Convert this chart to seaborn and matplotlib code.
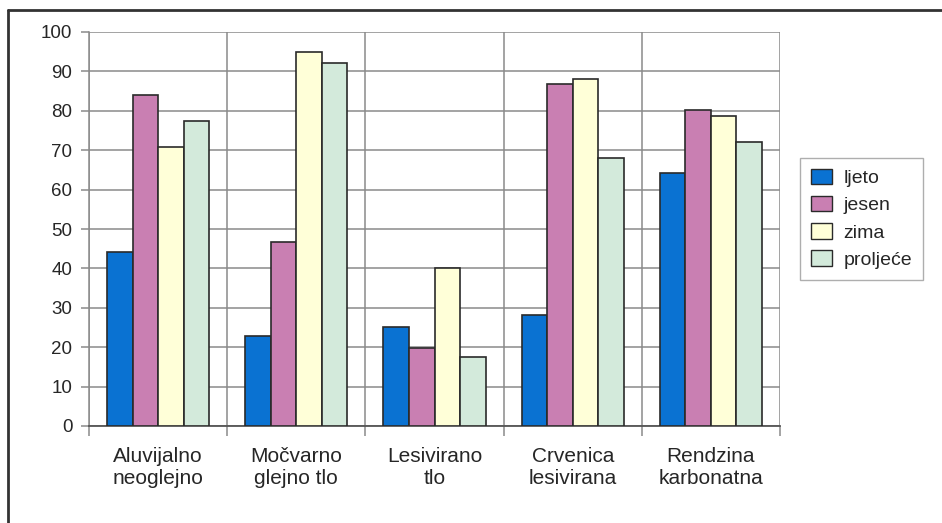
import numpy as np
import pandas as pd
import seaborn as sns
import matplotlib.pyplot as plt
from matplotlib.patches import Patch
from matplotlib.lines import Line2D

# Soil types (two-line axis labels) and seasonal values
categories = ["Aluvijalno\nneoglejno", "Močvarno\nglejno tlo", "Lesivirano\ntlo",
              "Crvenica\nlesivirana", "Rendzina\nkarbonatna"]
seasons = ["ljeto", "jesen", "zima", "proljeće"]
ljeto = [44.2, 22.9, 25.2, 28.2, 64.2]
jesen = [84.0, 46.8, 19.9, 86.8, 80.1]
zima = [70.8, 94.8, 40.0, 88.1, 78.6]
proljece = [77.4, 92.1, 17.4, 68.1, 72.1]
y_ticks = [0, 10, 20, 30, 40, 50, 60, 70, 80, 90, 100]

colors = ["#0a72d2", "#c97fb2", "#ffffd8", "#d3eadb"]

df = pd.DataFrame({
    "tlo": categories * 4,
    "sezona": [s for s in seasons for _ in categories],
    "vrijednost": ljeto + jesen + zima + proljece,
})

sns.set_theme(style="white")
plt.rcParams["font.family"] = ["Liberation Sans", "DejaVu Sans"]

fig = plt.figure(figsize=(9.42, 5.23), dpi=100)
ax = fig.add_axes([89 / 942, 1 - 426 / 523, (780 - 89) / 942, (426 - 32) / 523])

sns.barplot(data=df, x="tlo", y="vrijednost", hue="sezona", hue_order=seasons,
            order=categories, palette=colors, width=0.74, saturation=1,
            edgecolor="#2a2a2a", linewidth=1.2, legend=False, ax=ax, zorder=3)

ax.set_ylim(0, 100)
ax.set_xlim(-0.5, len(categories) - 0.5)
ax.set_yticks(y_ticks)
ax.set_xlabel("")
ax.set_ylabel("")

# horizontal gridlines and vertical separators between soil groups
ax.set_xticks(np.arange(-0.5, len(categories), 1.0), minor=True)
ax.grid(axis="y", which="major", color="#8a8a8a", linewidth=1.1, zorder=0)
ax.grid(axis="x", which="minor", color="#8a8a8a", linewidth=1.1, zorder=0)
ax.set_axisbelow(True)

ax.tick_params(axis="y", which="major", length=6, width=1.1, color="#8a8a8a",
               labelsize=13.5, pad=6, left=True)
ax.tick_params(axis="x", which="major", length=0, labelsize=15, pad=15)
ax.tick_params(axis="x", which="minor", length=7, width=1.1, color="#8a8a8a",
               bottom=True, direction="out")
for lab in ax.get_xticklabels():
    lab.set_linespacing(1.2)

for side in ["top", "right"]:
    ax.spines[side].set_visible(False)
ax.spines["left"].set_color("#8a8a8a")
ax.spines["left"].set_linewidth(1.1)
ax.spines["bottom"].set_color("#555555")
ax.spines["bottom"].set_linewidth(1.3)

handles = [Patch(facecolor=c, edgecolor="#2a2a2a", linewidth=1.0) for c in colors]
leg = fig.legend(handles, seasons, loc="upper left",
                 bbox_to_anchor=(800 / 942, 1 - 158 / 523), fontsize=14,
                 frameon=True, fancybox=False, edgecolor="#9a9a9a",
                 handlelength=1.1, handleheight=0.85, handletextpad=0.6,
                 labelspacing=0.45, borderpad=0.55, borderaxespad=0)
leg.get_frame().set_linewidth(1.0)

# outer frame lines along the top and left edges
fig.add_artist(Line2D([8 / 942, 1.0], [1 - 10 / 523, 1 - 10 / 523],
                      transform=fig.transFigure, color="#333333", linewidth=2))
fig.add_artist(Line2D([8 / 942, 8 / 942], [0.0, 1 - 10 / 523],
                      transform=fig.transFigure, color="#333333", linewidth=2))

fig.savefig("out.png", dpi=100)
